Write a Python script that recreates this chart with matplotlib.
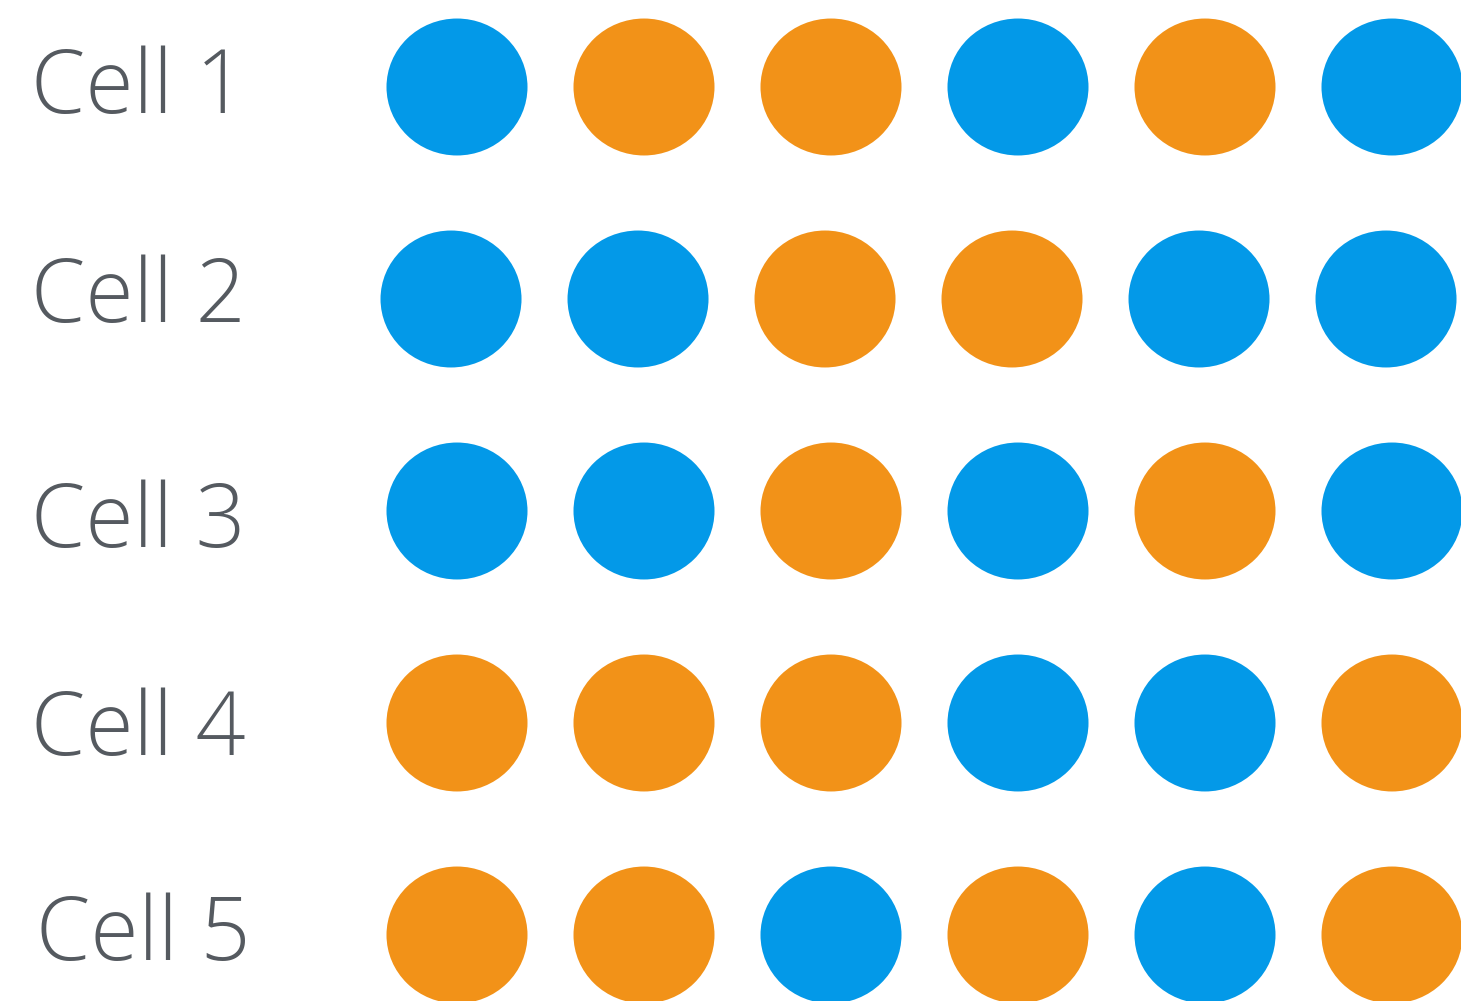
import matplotlib.pyplot as plt
from matplotlib.patches import Ellipse

# grid of cells, 1 = blue, 0 = orange
labels = ["Cell 1", "Cell 2", "Cell 3", "Cell 4", "Cell 5"]
states = [
    [1, 0, 0, 1, 0, 1],
    [1, 1, 0, 0, 1, 1],
    [1, 1, 0, 1, 0, 1],
    [0, 0, 0, 1, 1, 0],
    [0, 0, 1, 0, 1, 0],
]
row_shift = [0, -0.032, 0, 0, 0]          # row 2 sits a little to the left
label_x = [-2.28, -2.28, -2.28, -2.28, -2.25]
label_base = [0.123, 0.108, 0.170, 0.151, 0.118]

blue = "#0399E8"
orange = "#F29218"

fig = plt.figure(figsize=(14.61, 10.01), dpi=100)
ax = fig.add_axes([0, 0, 1, 1])

for r, row in enumerate(states):
    for c, s in enumerate(row):
        e = Ellipse((c + row_shift[r], r), width=0.754, height=0.646,
                    facecolor=blue if s else orange, edgecolor='none')
        ax.add_patch(e)
    ax.text(label_x[r], r + label_base[r], labels[r], fontsize=63,
            family=['Open Sans', 'DejaVu Sans'], fontweight='light',
            color='#555A60', ha='left', va='baseline')

ax.set_xlim(-457 / 187, (1461 - 457) / 187)
ax.set_ylim((1001 - 87) / 212, -87 / 212)
ax.axis('off')

fig.savefig("out.png", dpi=100)
